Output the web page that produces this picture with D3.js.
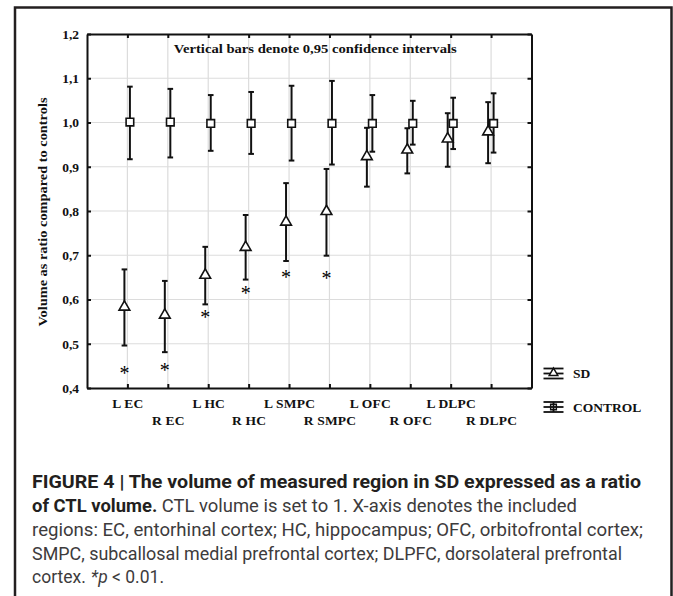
<!DOCTYPE html>
<html>
<head>
<meta charset="utf-8">
<script src="https://cdn.jsdelivr.net/npm/d3@7"></script>
<style>
  html, body { margin: 0; padding: 0; background: #fff; }
  svg { display: block; }
  text.cap { white-space: pre; }
</style>
</head>
<body>
<script>
// ---------------- DATA ----------------
const categories = ["L EC", "R EC", "L HC", "R HC", "L SMPC", "R SMPC", "L OFC", "R OFC", "L DLPC", "R DLPC"];
const sdMean  = [0.583, 0.565, 0.655, 0.718, 0.775, 0.799, 0.923, 0.938, 0.963, 0.979];
const sdLow   = [0.496, 0.481, 0.589, 0.645, 0.687, 0.699, 0.855, 0.885, 0.900, 0.908];
const sdHigh  = [0.668, 0.642, 0.719, 0.791, 0.863, 0.895, 0.988, 0.987, 1.021, 1.046];
const ctlMean = [1.001, 1.001, 0.998, 0.998, 0.998, 0.998, 0.998, 0.998, 0.998, 0.998];
const ctlLow  = [0.917, 0.921, 0.936, 0.929, 0.914, 0.905, 0.934, 0.950, 0.940, 0.932];
const ctlHigh = [1.081, 1.076, 1.062, 1.069, 1.083, 1.094, 1.062, 1.049, 1.056, 1.066];
const starCategories = ["L EC", "R EC", "L HC", "R HC", "L SMPC", "R SMPC"];
const starValues = [0.440, 0.446, 0.566, 0.620, 0.657, 0.655];
const yTicks = [0.4, 0.5, 0.6, 0.7, 0.8, 0.9, 1.0, 1.1, 1.2];
const yTickLabels = ["0,4", "0,5", "0,6", "0,7", "0,8", "0,9", "1,0", "1,1", "1,2"];
const seriesNames = ["SD", "CONTROL"];
const yTitle = "Volume as ratio compared to controls";
const note = "Vertical bars denote 0,95 confidence intervals";
const captionLines = [
  [{t: "FIGURE 4 | The volume of measured region in SD expressed as a ratio", b: true}],
  [{t: "of CTL volume.", b: true}, {t: " CTL volume is set to 1. X-axis denotes the included"}],
  [{t: "regions: EC, entorhinal cortex; HC, hippocampus; OFC, orbitofrontal cortex;"}],
  [{t: "SMPC, subcallosal medial prefrontal cortex; DLPFC, dorsolateral prefrontal"}],
  [{t: "cortex."}, {t: "*p", i: true, gap: 5}, {t: " < 0.01."}]
];

// ---------------- LAYOUT ----------------
const W = 673, H = 596;
const serif = "'Liberation Serif', 'Times New Roman', serif";
const sans = "'Liberation Sans Narrow', 'Roboto', 'Liberation Sans', sans-serif";
const ink = "#111";
const fs = "13.5px";

const svg = d3.select("body").append("svg")
  .attr("width", W).attr("height", H)
  .attr("viewBox", `0 0 ${W} ${H}`);

// outer frame (open at the bottom)
svg.append("path")
  .attr("d", "M15,600 V7.5 H671.5 V600")
  .attr("fill", "none").attr("stroke", "#231f20").attr("stroke-width", 2.5);

const L = 87, R = 531.5, T = 34, B = 388;
const idx = d3.range(categories.length);
const x = d3.scaleLinear().domain([0, categories.length + 1]).range([L, R]);
const y = d3.scaleLinear().domain([0.4, 1.2]).range([B, T]);
const xc = i => x(i + 1);
const sdOff = -3, ctlOff = 2.5;

// grid
const grid = svg.append("g").attr("stroke", "#dcdcdc").attr("stroke-width", 1.2);
grid.selectAll("line.v").data(idx).join("line")
  .attr("x1", d => xc(d)).attr("x2", d => xc(d)).attr("y1", T).attr("y2", B);
grid.selectAll("line.h").data(yTicks.slice(1, -1)).join("line")
  .attr("x1", L).attr("x2", R).attr("y1", d => y(d)).attr("y2", d => y(d));

// axes (inward ticks)
const fmtY = d => yTickLabels[yTicks.indexOf(d)];
const axL = svg.append("g").attr("transform", `translate(${L},0)`)
  .call(d3.axisLeft(y).tickValues(yTicks).tickFormat(fmtY).tickSizeInner(-4).tickSizeOuter(0).tickPadding(8));
const axR = svg.append("g").attr("transform", `translate(${R},0)`)
  .call(d3.axisRight(y).tickValues(yTicks).tickFormat("").tickSizeInner(-4).tickSizeOuter(0));
const axT = svg.append("g").attr("transform", `translate(0,${T})`)
  .call(d3.axisTop(x).tickValues(idx.map(i => i + 1)).tickFormat("").tickSizeInner(-4).tickSizeOuter(0));
const axB = svg.append("g").attr("transform", `translate(0,${B})`)
  .call(d3.axisBottom(x).tickValues(idx.map(i => i + 1)).tickFormat(d => categories[d - 1]).tickSizeInner(-4).tickSizeOuter(0).tickPadding(10));
[axL, axR, axT, axB].forEach(a => {
  a.selectAll("path.domain").attr("stroke", ink).attr("stroke-width", 2);
  a.selectAll(".tick line").attr("stroke", ink).attr("stroke-width", 2);
  a.selectAll("text").attr("fill", ink).style("font-family", serif).style("font-weight", "bold").style("font-size", fs);
});
axB.selectAll(".tick text")
  .style("letter-spacing", "0.2px")
  .attr("y", (d) => (d % 2 === 0) ? 27.5 : 10);

// note
svg.append("text")
  .attr("x", (L + R) / 2 + 6).attr("y", 52.5)
  .attr("text-anchor", "middle")
  .attr("textLength", 283).attr("lengthAdjust", "spacingAndGlyphs")
  .style("font-family", serif).style("font-weight", "bold").style("font-size", "12.5px")
  .attr("fill", ink).text(note);

// y title
svg.append("text")
  .attr("transform", `translate(47,${(T + B) / 2 + 1}) rotate(-90)`)
  .attr("text-anchor", "middle")
  .attr("textLength", 229).attr("lengthAdjust", "spacingAndGlyphs")
  .style("font-family", serif).style("font-weight", "bold").style("font-size", "12.5px")
  .attr("fill", ink).text(yTitle);

// error bars
function bars(g, lo, hi, off) {
  g.selectAll("line.bar").data(idx).join("line")
    .attr("x1", d => xc(d) + off).attr("x2", d => xc(d) + off)
    .attr("y1", d => y(lo[d])).attr("y2", d => y(hi[d]))
    .attr("stroke", ink).attr("stroke-width", 2);
  [lo, hi].forEach(arr => {
    g.append("g").selectAll("line").data(idx).join("line")
      .attr("x1", d => xc(d) + off - 2.8).attr("x2", d => xc(d) + off + 2.8)
      .attr("y1", d => y(arr[d])).attr("y2", d => y(arr[d]))
      .attr("stroke", ink).attr("stroke-width", 2);
  });
}
const gSD = svg.append("g"), gCTL = svg.append("g");
bars(gSD, sdLow, sdHigh, sdOff);
bars(gCTL, ctlLow, ctlHigh, ctlOff);

const tri = d3.symbol(d3.symbolTriangle, 50)();
const sq = d3.symbol(d3.symbolSquare, 58)();
gCTL.selectAll("path.m").data(idx).join("path")
  .attr("d", sq).attr("transform", d => `translate(${xc(d) + ctlOff},${y(ctlMean[d])})`)
  .attr("fill", "#fff").attr("stroke", ink).attr("stroke-width", 1.6);
gSD.selectAll("path.m").data(idx).join("path")
  .attr("d", tri).attr("transform", d => `translate(${xc(d) + sdOff},${y(sdMean[d])})`)
  .attr("fill", "#fff").attr("stroke", ink).attr("stroke-width", 1.6);

// significance stars
svg.append("g").selectAll("text").data(starCategories).join("text")
  .attr("x", (d, k) => xc(categories.indexOf(d)) + sdOff)
  .attr("y", (d, k) => y(starValues[k]) + 9.5)
  .attr("text-anchor", "middle")
  .style("font-family", serif).style("font-size", "20px")
  .attr("fill", "#000").text("*");

// legend
const leg = svg.append("g");
const legY = [373.5, 407];
const legX = 553.5;
seriesNames.forEach((name, k) => {
  const cy = legY[k];
  const g = leg.append("g");
  [-5, 0, 5].forEach(dy => {
    g.append("line").attr("x1", legX - 10).attr("x2", legX + 10)
      .attr("y1", cy + dy).attr("y2", cy + dy)
      .attr("stroke", ink).attr("stroke-width", 1.8);
  });
  if (k === 1) {
    g.append("line").attr("x1", legX).attr("x2", legX).attr("y1", cy - 5).attr("y2", cy + 5)
      .attr("stroke", ink).attr("stroke-width", 1.8);
  }
  g.append("path").attr("d", k === 0 ? d3.symbol(d3.symbolTriangle, 32)() : d3.symbol(d3.symbolSquare, 32)())
    .attr("transform", `translate(${legX},${cy + (k === 0 ? -0.5 : 0)})`)
    .attr("fill", k === 0 ? "#fff" : "none").attr("stroke", ink).attr("stroke-width", 1.5);
  g.append("text").attr("x", 573).attr("y", cy + 4.8)
    .style("font-family", serif).style("font-weight", "bold").style("font-size", fs)
    .attr("fill", ink).text(name);
});

// caption: each styled run is its own text element, runs laid out side by side
const capWidths = [609, 545, 611, 590, 132];
const capBase = [487.5, 511.5, 535.5, 559.5, 583];
captionLines.forEach((parts, k) => {
  const g = svg.append("g");
  const nodes = parts.map(p => g.append("text")
    .attr("class", "cap")
    .attr("x", 0).attr("y", capBase[k])
    .attr("xml:space", "preserve")
    .style("font-family", sans).style("font-size", "18px")
    .style("font-weight", p.b ? "bold" : "normal")
    .style("font-style", p.i ? "italic" : "normal")
    .attr("fill", p.b ? "#231f20" : "#3d3b3c")
    .text(p.t));
  const natural = nodes.map(n => n.node().getComputedTextLength());
  const total = d3.sum(natural);
  const gaps = parts.map((p, j) => j === 0 ? 0 : (p.gap || 0));
  const f = (capWidths[k] - d3.sum(gaps)) / total;
  let cx = 32;
  nodes.forEach((n, j) => {
    cx += gaps[j];
    const w = natural[j] * f;
    n.attr("x", cx).attr("textLength", w).attr("lengthAdjust", "spacingAndGlyphs");
    cx += w;
  });
});
</script>
</body>
</html>
